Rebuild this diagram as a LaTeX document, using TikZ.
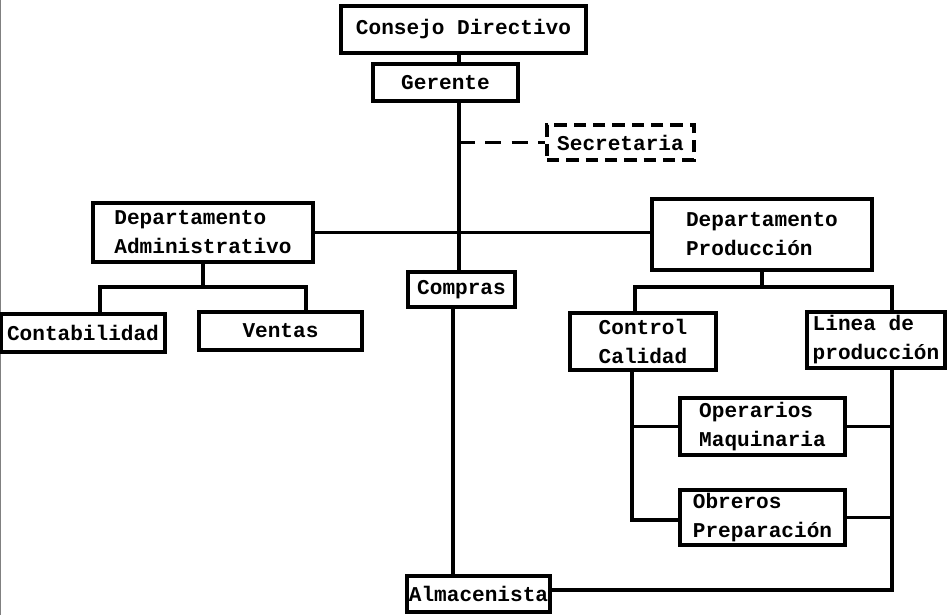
\documentclass[tikz,border=0pt]{standalone}
\usepackage{fontspec}
\newfontfamily\typewriter{Liberation Mono}
\usetikzlibrary{calc}

\begin{document}
\begin{tikzpicture}[x=0.02cm, y=-0.02cm,
		puesto/.style={draw, line width=1.8pt, align=left, inner sep=0pt,
			font=\typewriter\bfseries\fontsize{12}{16.5}\selectfont},
		enlace/.style={line width=1.8pt},
	]
	\useasboundingbox (0,0) rectangle (948,615);
	\draw[gray, line width=1pt] (0.5,0) to (0.5,615);

	\node[puesto, minimum width=4.90cm, minimum height=0.94cm] (consejo) at (463.5,29.5) {Consejo Directivo};
	\node[puesto, minimum width=2.90cm, minimum height=0.74cm] (gerente) at (445.5,82.5) {Gerente};
	\node[puesto, dash pattern=on 7pt off 4pt,
			minimum width=2.94cm, minimum height=0.70cm,
		] (secretaria) at (620.5,142.5) {Secretaria};

	\node[puesto, minimum width=4.40cm, minimum height=1.18cm] (admin) at (203,232.5) {Departamento\\Administrativo};
	\node[puesto, minimum width=4.40cm, minimum height=1.42cm] (prod) at (762,234.5) {Departamento\\Producción};
	\node[puesto, minimum width=2.14cm, minimum height=0.70cm] (compras) at (461.5,289.5) {Compras};

	\node[puesto, minimum width=3.28cm, minimum height=0.76cm] (contab) at (83,333) {Contabilidad};
	\node[puesto, minimum width=3.26cm, minimum height=0.76cm] (ventas) at (280.5,331) {Ventas};

	\node[puesto, minimum width=2.92cm, minimum height=1.14cm] (control) at (643,341.5) {Control\\Calidad};
	\node[puesto, minimum width=2.76cm, minimum height=1.12cm] (linea) at (876,340) {Linea de\\producción};
	\node[puesto, minimum width=3.30cm, minimum height=1.14cm] (operarios) at (762.5,426.5) {Operarios\\Maquinaria};
	\node[puesto, minimum width=3.30cm, minimum height=1.10cm] (obreros) at (762.5,517.5) {Obreros\\Preparación};

	\node[puesto, minimum width=2.86cm, minimum height=0.72cm] (almacen) at (478.5,594) {Almacenista};


	% tronco central
	\coordinate (tr) at (459,0);
	\coordinate (tb) at (453,0);
	\draw[enlace] (consejo.south -| tr) to (gerente.north -| tr);
	\draw[enlace] (gerente.south -| tr) to (compras.north -| tr);
	\draw[enlace] (compras.south -| tb) to (almacen.north -| tb);
	\draw[enlace, dash pattern=on 9pt off 6pt] (tr |- secretaria.west) to (secretaria.west);
	\draw[enlace] (admin.east) to (admin.east -| prod.west);

	% administracion
	\coordinate (ab) at (100,287);
	\coordinate (ae) at (306,287);
	\draw[enlace] (admin.south) to (admin.south |- ab);
	\draw[enlace] (contab.north -| ab) -- (ab) -- (ae) -- (ventas.north -| ae);

	% produccion
	\coordinate (pb) at (635,287);
	\coordinate (pe) at (892,287);
	\coordinate (cv) at (632,520);
	\coordinate (lv) at (892,590);
	\draw[enlace] (prod.south) to (prod.south |- pb);
	\draw[enlace] (control.north -| pb) -- (pb) -- (pe) -- (linea.north -| pe);
	\draw[enlace] (control.south -| cv) -- (cv) -- (cv -| obreros.west);
	\draw[enlace] (cv |- operarios.west) to (operarios.west);
	\draw[enlace] (linea.south -| lv) -- (lv) -- (lv -| almacen.east);
	\draw[enlace] (operarios.east) to (operarios.east -| lv);
	\draw[enlace] (obreros.east) to (obreros.east -| lv);
\end{tikzpicture}
\end{document}
